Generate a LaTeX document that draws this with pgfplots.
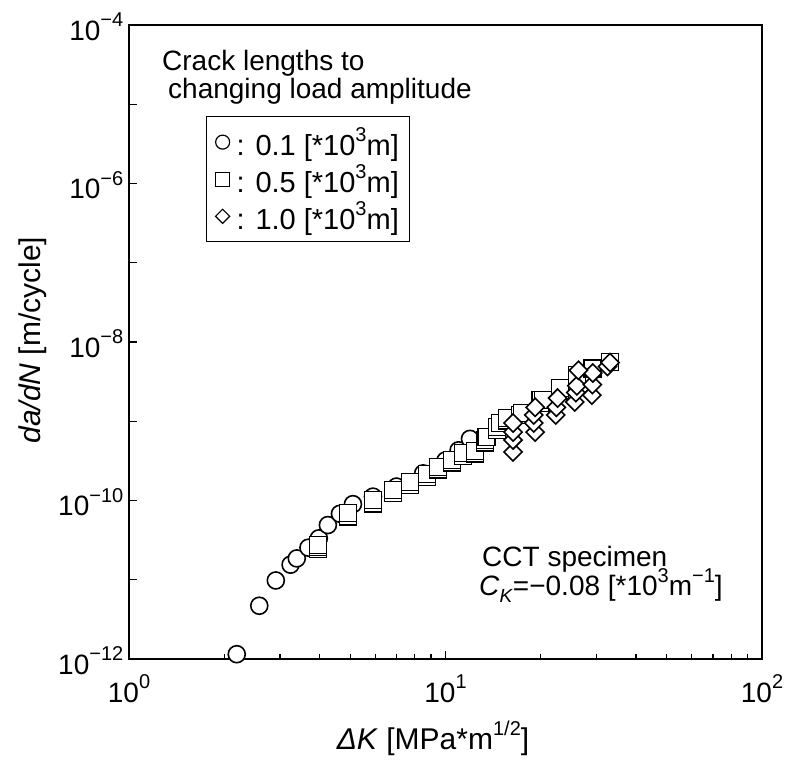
\documentclass[border=0pt]{standalone}
\usepackage{fontspec}
\setmainfont{Liberation Sans}
\usepackage{pgfplots}
\usepackage{pgfplotstable}
\pgfplotsset{compat=1.18}
\newcommand{\sups}[1]{\raisebox{0.47em}{\fontsize{20}{20}\selectfont #1}}
\newcommand{\subs}[1]{\raisebox{-0.22em}{\fontsize{19}{19}\selectfont #1}}
\newcommand{\tlab}[1]{\mbox{\fontsize{28}{28}\selectfont 10\sups{#1}}}

\pgfplotstableread{
x y
2.19 1.15e-12
2.58 4.7e-12
2.91 9.8e-12
3.24 1.55e-11
3.39 1.86e-11
3.69 2.54e-11
3.98 3.33e-11
4.25 4.9e-11
4.64 6.8e-11
5.10 9.0e-11
5.9 1.12e-10
7.0 1.5e-10
8.5 2.2e-10
10.0 3.2e-10
11.0 4.3e-10
11.95 6.0e-10
}\circdata

\pgfplotstableread{
x y
3.96 2.45e-11
3.96 2.6e-11
3.96 2.75e-11
4.92 6.3e-11
4.92 6.95e-11
5.90 9.2e-11
5.90 1.01e-10
6.83 1.25e-10
6.83 1.36e-10
7.73 1.57e-10
7.73 1.71e-10
8.74 1.98e-10
8.74 2.16e-10
9.47 2.45e-10
9.47 2.65e-10
10.48 3.0e-10
10.48 3.24e-10
11.36 3.65e-10
11.36 3.97e-10
12.40 3.9e-10
12.40 4.21e-10
13.33 5.4e-10
13.33 5.8e-10
13.5 6.3e-10
14.55 7.8e-10
14.55 8.46e-10
14.87 9.5e-10
15.64 1.02e-9
15.64 1.10e-9
17.2 1.2e-9
17.45 1.27e-9
20.0 1.70e-9
20.0 1.85e-9
20.33 1.85e-9
23.0 2.45e-9
23.0 2.63e-9
26.0 3.55e-9
26.0 3.84e-9
29.2 4.6e-9
33.1 5.6e-9
}\sqdata

\pgfplotstableread{
x y
16.35 4.1e-10
16.35 5.8e-10
16.35 7.3e-10
16.35 9.5e-10
19.2 7.3e-10
19.0 9.5e-10
19.0 1.2e-9
19.2 1.5e-9
22.3 1.2e-9
22.4 1.5e-9
22.6 1.96e-9
25.6 1.75e-9
25.8 2.3e-9
26.0 2.8e-9
29.0 2.14e-9
29.1 2.9e-9
29.2 4.06e-9
26.3 4.4e-9
32.5 4.9e-9
33.1 5.5e-9
}\diadata

\begin{document}
\begin{tikzpicture}[x=1pt,y=1pt]
\path[use as bounding box] (0,0) rectangle (790,760);
\begin{axis}[
  at={(129pt,101pt)}, anchor=south west,
  scale only axis, width=633pt, height=634pt,
  xmode=log, ymode=log,
  xmin=1, xmax=100, ymin=1e-12, ymax=1e-4,
  xtick={1,10,100},
  xticklabels={\tlab{0},\tlab{1},\tlab{2}},
  minor xtick={2,3,4,5,6,7,8,9,20,30,40,50,60,70,80,90},
  ytick={1e-12,1e-11,1e-10,1e-9,1e-8,1e-7,1e-6,1e-5,1e-4},
  yticklabels={\tlab{−12},{},\tlab{−10},{},\tlab{−8},{},\tlab{−6},{},\tlab{−4}},
  yminorticks=false,
  tick align=inside, tick pos=left,
  major tick length=8pt, minor tick length=5pt,
  every tick/.style={black, line width=1.2pt},
  axis line style={line width=1.5pt},
  ticklabel style={font=\fontsize{28}{28}\selectfont},
  xticklabel style={inner sep=0pt, anchor=base, yshift=-43pt},
  yticklabel style={inner sep=0pt, anchor=base east, xshift=-5.5pt, yshift=-15pt},
  xlabel={\textit{ΔK} [MPa*m\sups{1/2}]},
  ylabel={\textit{da/dN} [m/cycle]},
  label style={font=\fontsize{30}{30}\selectfont},
  xlabel style={at={(axis description cs:0.4803,-0.1435)}, anchor=base},
  ylabel style={at={(axis description cs:-0.1406,0.503)}, anchor=base},
  legend image code/.code={\draw[#1] plot coordinates {(0pt,0pt)};},
  legend style={at={(axis description cs:0.1216,0.8565)}, anchor=north west,
    draw=black, line width=1.2pt, font=\fontsize{29}{30}\selectfont,
    inner xsep=9pt, inner ysep=9pt, row sep=4pt,
    /tikz/every odd column/.style={column sep=5pt}},
  legend cell align=left,
]
\addplot[only marks, mark=*, mark size=8.5pt, line width=1.6pt,
  mark options={fill=white, draw=black},
  legend image post style={mark size=7pt, line width=1.2pt}]
  table[x=x,y=y] {\circdata};
\addlegendentry{: 0.1 [*10\sups{3}m]}
\addplot[only marks, mark=square*, mark size=8.5pt, line width=1.6pt,
  mark options={fill=white, draw=black},
  legend image post style={mark size=7pt, line width=1.2pt}]
  table[x=x,y=y] {\sqdata};
\addlegendentry{: 0.5 [*10\sups{3}m]}
\addplot[only marks, mark=square*, mark size=6.4pt, line width=1.6pt,
  mark options={fill=white, draw=black, rotate=45},
  legend image post style={mark size=5pt, line width=1.2pt}]
  table[x=x,y=y] {\diadata};
\addlegendentry{: 1.0 [*10\sups{3}m]}
\end{axis}
\begin{scope}[every node/.style={font=\fontsize{28}{30}\selectfont, inner sep=0pt}]
\node[anchor=base west] at (162,689) {Crack lengths to};
\node[anchor=base west] at (168,661) {changing load amplitude};
\node[anchor=base west] at (482,193) {CCT specimen};
\node[anchor=base west] at (479,164) {\textit{C}\subs{\textit{K}}=−0.08 [*10\sups{3}m\sups{−1}]};
\end{scope}
\end{tikzpicture}
\end{document}
